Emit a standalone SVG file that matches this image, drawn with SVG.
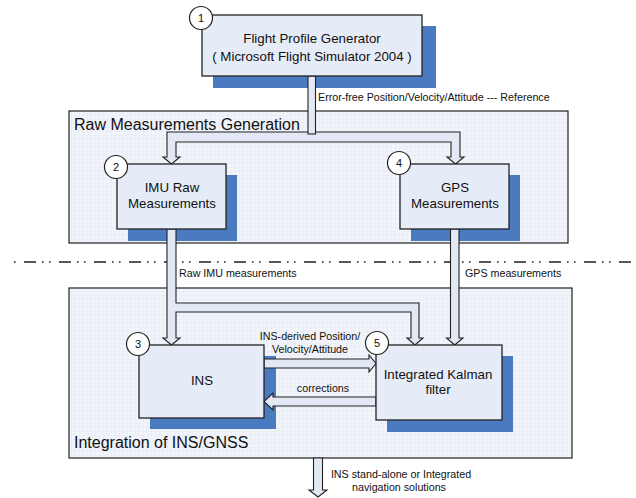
<svg xmlns="http://www.w3.org/2000/svg" width="636" height="498" viewBox="0 0 636 498">
  <defs>
    <pattern id="grid" width="4" height="4" patternUnits="userSpaceOnUse">
      <rect width="4" height="4" fill="#f1f4fa"/>
      <path d="M4 0V4M0 4H4" stroke="#e0e6f0" stroke-width="0.6" fill="none"/>
    </pattern>
    <style>
      .region { fill: url(#grid); stroke: #222; stroke-width: 1.2; }
      .box { fill: #e6ecf7; stroke: #222; stroke-width: 1.3; }
      .shadow { fill: #4a7bc1; }
      .badge { fill: #ffffff; stroke: #222; stroke-width: 1.2; }
      .flow { fill: #e2e9f4; stroke: #222; stroke-width: 1.1; stroke-linejoin: miter; }
      .sep { stroke: #222; stroke-width: 1.5; stroke-dasharray: 12 6 1.6 5.4 1.6 8.4; stroke-dashoffset: 24; fill: none; }
      text { font-family: "Liberation Sans", Arial, sans-serif; fill: #111; }
      .lbl { font-size: 13.3px; text-anchor: middle; }
      .num { font-size: 11px; text-anchor: middle; }
      .grp { font-size: 16px; }
      .note { font-size: 10.7px; }
      .notec { font-size: 10.7px; text-anchor: middle; }
    </style>
  </defs>

  <rect width="636" height="498" fill="#ffffff"/>

  <!-- group panels -->
  <g id="raw-measurements-generation">
    <rect class="region" x="69" y="111" width="499" height="132"/>
    <text class="grp" x="74" y="130">Raw Measurements Generation</text>
  </g>
  <g id="integration">
    <rect class="region" x="69" y="288" width="503" height="170"/>
    <text class="grp" x="74" y="448">Integration of INS/GNSS</text>
  </g>

  <!-- dash-dot separator -->
  <line class="sep" x1="13" y1="262" x2="636" y2="262"/>

  <!-- shadows under the nodes -->
  <g id="shadows">
    <rect class="shadow" x="213" y="26" width="223" height="62"/>
    <rect class="shadow" x="128" y="175" width="109" height="66"/>
    <rect class="shadow" x="411" y="175" width="109" height="66"/>
    <rect class="shadow" x="150" y="356" width="126" height="73"/>
    <rect class="shadow" x="387" y="356" width="126" height="76"/>
  </g>

  <!-- block arrows -->
  <g id="connectors">
    <!-- split from generator to IMU and GPS -->
    <polygon class="flow" points="167,132 460,132 460,157 464,157 455.5,164 447,157 451,157 451,142 176,142 176,157 180,157 171.5,164 163,157 167,157"/>
    <rect class="flow" x="308" y="76" width="7.5" height="58"/>
    <!-- IMU to INS and to Kalman filter -->
    <polygon class="flow" points="167,229 176,229 176,303 419,303 419,338 423,338 415,345 407,338 411,338 411,312 176,312 176,338 180,338 171.5,345 163,338 167,338"/>
    <!-- GPS to Kalman filter -->
    <polygon class="flow" points="450.5,229 459,229 459,338 463,338 454.75,345 446.5,338 450.5,338"/>
    <!-- INS to Kalman filter -->
    <polygon class="flow" points="264,359 369,359 369,355 376,363.5 369,372 369,368 264,368"/>
    <!-- corrections back to INS -->
    <polygon class="flow" points="376,397 273,397 273,393 264,401.5 273,410 273,406 376,406"/>
    <!-- output -->
    <polygon class="flow" points="313.5,458 322.5,458 322.5,490 327,490 318,497 309,490 313.5,490"/>
  </g>

  <!-- connector labels -->
  <g id="connector-labels">
    <text class="note" x="318" y="101">Error-free Position/Velocity/Attitude --- Reference</text>
    <text class="note" x="179" y="277">Raw IMU measurements</text>
    <text class="note" x="465" y="277">GPS measurements</text>
    <text class="notec" x="310" y="340">INS-derived Position/</text>
    <text class="notec" x="310" y="353">Velocity/Attitude</text>
    <text class="notec" x="323" y="392">corrections</text>
    <text class="notec" x="401" y="478">INS stand-alone or Integrated</text>
    <text class="notec" x="399" y="491">navigation solutions</text>
  </g>

  <!-- nodes -->
  <g id="node-1">
    <rect class="box" x="202" y="15" width="220" height="61"/>
    <circle class="badge" cx="201" cy="18" r="11.5"/>
    <text class="num" x="201" y="22">1</text>
    <text class="lbl" x="312" y="43">Flight Profile Generator</text>
    <text class="lbl" x="312" y="61">( Microsoft Flight Simulator 2004 )</text>
  </g>
  <g id="node-2">
    <rect class="box" x="117" y="164" width="109" height="65"/>
    <circle class="badge" cx="116" cy="167" r="11.5"/>
    <text class="num" x="116" y="171">2</text>
    <text class="lbl" x="172" y="192">IMU Raw</text>
    <text class="lbl" x="172" y="208">Measurements</text>
  </g>
  <g id="node-4">
    <rect class="box" x="400" y="164" width="109" height="65"/>
    <circle class="badge" cx="399" cy="163" r="11.5"/>
    <text class="num" x="399" y="167">4</text>
    <text class="lbl" x="455" y="192">GPS</text>
    <text class="lbl" x="455" y="208">Measurements</text>
  </g>
  <g id="node-3">
    <rect class="box" x="139" y="345" width="125" height="73"/>
    <circle class="badge" cx="138" cy="344" r="11.5"/>
    <text class="num" x="138" y="348">3</text>
    <text class="lbl" x="202" y="385">INS</text>
  </g>
  <g id="node-5">
    <rect class="box" x="376" y="345" width="126" height="75"/>
    <circle class="badge" cx="377" cy="343" r="11.5"/>
    <text class="num" x="377" y="347">5</text>
    <text class="lbl" x="438" y="379">Integrated Kalman</text>
    <text class="lbl" x="438" y="394">filter</text>
  </g>
</svg>
